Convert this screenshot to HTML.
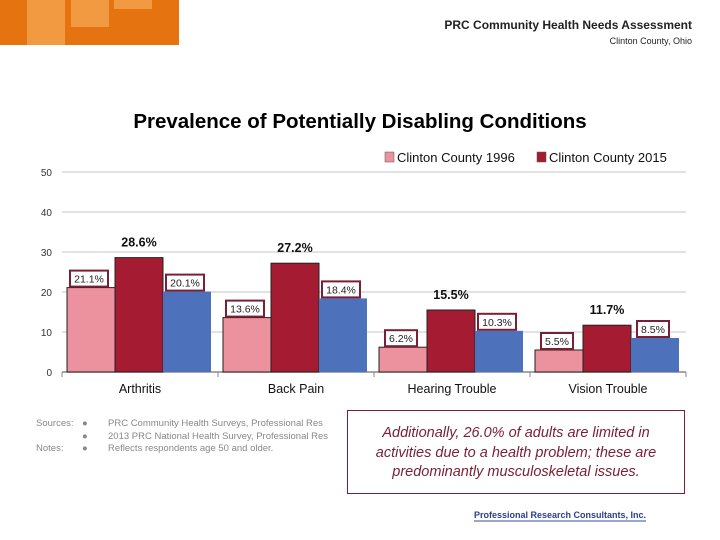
<!DOCTYPE html>
<html><head><meta charset="utf-8"><style>
body{margin:0;width:720px;height:540px;background:#fff;font-family:"Liberation Sans",sans-serif;position:relative;overflow:hidden}
.a{position:absolute}
</style></head><body>
<div class="a" style="left:0;top:0;width:179px;height:45px;background:#e57410">
<div class="a" style="left:27px;top:0;width:38px;height:45px;background:#f19a42"></div>
<div class="a" style="left:71px;top:0;width:38px;height:27px;background:#f19a42"></div>
<div class="a" style="left:114px;top:0;width:38px;height:9px;background:#f19a42"></div>
</div>
<div class="a" style="right:28px;top:18px;font-size:12px;font-weight:bold;color:#222">PRC Community Health Needs Assessment</div>
<div class="a" style="right:28px;top:36px;font-size:9px;color:#222">Clinton County, Ohio</div>
<div class="a" style="left:0;width:720px;top:110px;text-align:center;font-size:20.5px;font-weight:bold;color:#000">Prevalence of Potentially Disabling Conditions</div>
<svg class="a" style="left:0;top:0" width="720" height="540" id="chart"></svg>
<div class="a" style="left:36px;top:418px;font-size:9.5px;color:#888;line-height:12.5px">
<div><span style="display:inline-block;width:46px">Sources:</span><span style="display:inline-block;width:26px">●</span>PRC Community Health Surveys, Professional Res</div>
<div><span style="display:inline-block;width:46px"></span><span style="display:inline-block;width:26px">●</span>2013 PRC National Health Survey, Professional Res</div>
<div><span style="display:inline-block;width:46px">Notes:</span><span style="display:inline-block;width:26px">●</span>Reflects respondents age 50 and older.</div>
</div>
<div class="a" style="left:347px;top:410px;width:338px;height:84px;border:1px solid #7a1f35;background:#fff;font-style:italic;color:#7a1f35;font-size:14.5px;text-align:center;line-height:19.5px;box-sizing:border-box;padding-top:13px;white-space:nowrap">Additionally, 26.0% of adults are limited in<br>activities due to a health problem; these are<br>predominantly musculoskeletal issues.</div>
<div class="a" style="left:474px;top:510px;font-size:9px;font-weight:bold;color:#2a3f8f;border-bottom:2px solid #9aa6cf">Professional Research Consultants, Inc.</div>
<script>
const categories=["Arthritis","Back Pain","Hearing Trouble","Vision Trouble"];
const series1996=[21.1,13.6,6.2,5.5];
const series2015=[28.6,27.2,15.5,11.7];
const seriesUS=[20.1,18.4,10.3,8.5];
const yTicks=[0,10,20,30,40,50];
const svg=document.getElementById('chart');
const NS='http://www.w3.org/2000/svg';
const x0=62,x1=686,yb=372,yt=172,ymax=50;
const y=v=>yb-(v/ymax)*(yb-yt);
const gw=(x1-x0)/categories.length;
function el(t,a,p){const e=document.createElementNS(NS,t);for(const k in a)e.setAttribute(k,a[k]);(p||svg).appendChild(e);return e;}
yTicks.forEach(t=>{
 if(t>0){const l=el('line',{x1:x0,x2:x1,y1:y(t),y2:y(t),stroke:'#d9d9d9','stroke-width':1.5});
 
 }
 const tx=el('text',{x:52,y:y(t)+4,'text-anchor':'end','font-size':10,fill:'#333','font-family':'Liberation Sans'});tx.textContent=t;
 
 
});
const ax=el('line',{x1:x0,x2:x1,y1:yb,y2:yb,stroke:'#888','stroke-width':1.5});


for(let i=0;i<=categories.length;i++){el('line',{x1:x0+i*gw,x2:x0+i*gw,y1:yb,y2:yb+5,stroke:'#888'});}
const bw=48,pad=5;
const sets=[[series1996,'#ec919e','box'],[series2015,'#a51b31','bold'],[seriesUS,'#4d71bb','box']];
categories.forEach((c,i)=>{
 const gx=x0+i*gw+pad;
 sets.forEach((s,j)=>{
  const v=s[0][i],bx=gx+j*bw;
  const r=el('rect',{x:bx,y:y(v),width:bw,height:yb-y(v),fill:s[1],stroke:j<2?'#222':'none','stroke-width':1});
  
  
  const lbl=v.toFixed(1)+'%';
  if(s[2]==='bold'){
   const t=el('text',{x:bx+bw/2,y:y(v)-11,'text-anchor':'middle','font-size':12.5,'font-weight':'bold',fill:'#111','font-family':'Liberation Sans'});t.textContent=lbl;
   
   
  }else{
   const cx=bx+bw/2-2,cy=y(v)-8,w=lbl.length*6+8;
   el('rect',{x:cx-w/2,y:cy-9,width:w,height:16,fill:'#fff',stroke:'#7a1f35','stroke-width':2});
   const t=el('text',{x:cx,y:cy+3,'text-anchor':'middle','font-size':10.5,fill:'#222','font-family':'Liberation Sans'});t.textContent=lbl;
   
   
  }
 });
 const ct=el('text',{x:x0+i*gw+gw/2,y:393,'text-anchor':'middle','font-size':12.5,fill:'#111','font-family':'Liberation Sans'});ct.textContent=c;
 
 
});
const lg=[['Clinton County 1996','#ec919e',385],['Clinton County 2015','#a51b31',537]];
lg.forEach(l=>{
 const g=el('g',{});
 
 
 el('rect',{x:l[2],y:152,width:9,height:10,fill:l[1],stroke:'#555','stroke-width':0.5},g);
 const t=el('text',{x:l[2]+12,y:162,'font-size':13,fill:'#111','font-family':'Liberation Sans'},g);t.textContent=l[0];
});
</script>
</body></html>
